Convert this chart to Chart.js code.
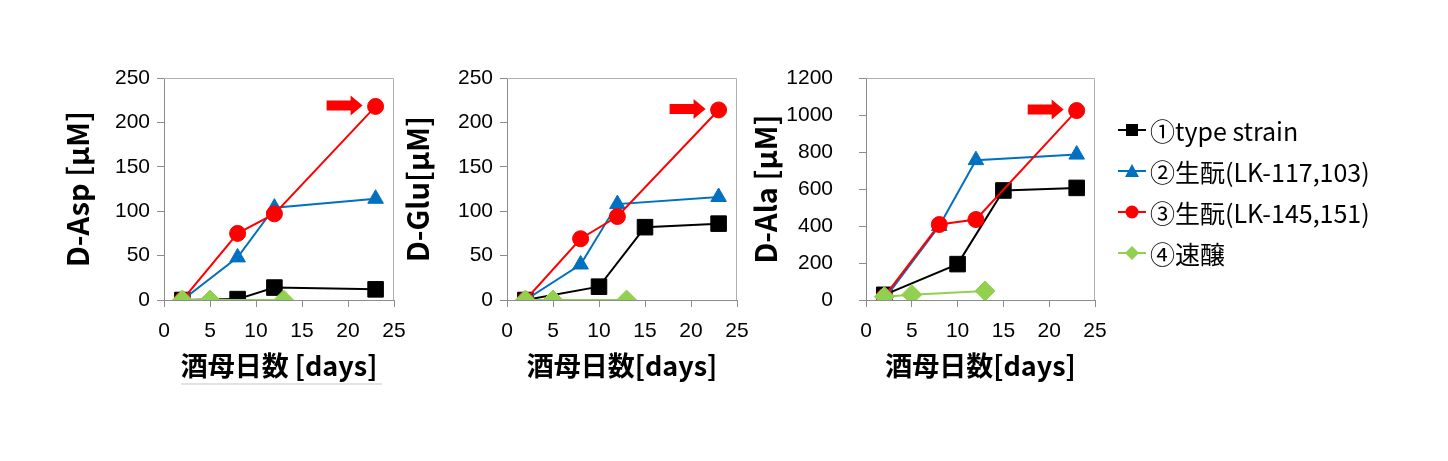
<!DOCTYPE html>
<html>
<head>
<meta charset="utf-8">
<script src="https://cdn.jsdelivr.net/npm/chart.js@4/dist/chart.umd.min.js"></script>
<style>
body{margin:0;background:#fff;width:1448px;height:461px;position:relative;overflow:hidden;}
canvas{position:absolute;}
#legend{position:absolute;left:1116px;top:109px;font-family:'Noto Sans CJK JP',sans-serif;font-size:25px;color:#000;}
.row{height:41px;display:flex;align-items:center;white-space:nowrap;}
#uline{position:absolute;left:181px;top:383px;width:201px;height:2px;background:#e2e2e2;}
</style>
</head>
<body>
<canvas id="c1"></canvas>
<canvas id="c2"></canvas>
<canvas id="c3"></canvas>
<div id="uline"></div>
<div id="legend"></div>
<script>
// series names and colours
var names = ["①type strain", "②生酛(LK-117,103)", "③生酛(LK-145,151)", "④速醸"];
var colors = ["#000000", "#0070C0", "#FF0000", "#92D050"];
var styles = ["rect", "triangle", "circle", "rectRot"];
var radii = [11, 9, 8, 10];

// sampling days [days]
var daysType1 = [2, 8, 12, 23];     // type strain, D-Asp
var daysType2 = [2, 10, 15, 23];    // type strain, D-Glu / D-Ala
var daysKimoto = [2, 8, 12, 23];
var daysSokujo = [2, 5, 13];

// D-Asp [uM]
var aspType = [0, 1, 14, 12];
var aspK1 = [0, 48, 104, 114];
var aspK2 = [0, 75, 97, 218];
var aspSoku = [0, 0, 0];

// D-Glu [uM]
var gluType = [0, 15, 82, 86];
var gluK1 = [0, 40, 108, 116];
var gluK2 = [0, 69, 94, 214];
var gluSoku = [0, 0, 0];

// D-Ala [uM]
var alaType = [28, 194, 592, 606];
var alaK1 = [5, 400, 756, 786];
var alaK2 = [18, 408, 435, 1024];
var alaSoku = [18, 29, 49];

var xTicksMax = 25, xStep = 5;

function pts(xs, ys){
	var out = new Array();
	for(var i = 0; i < xs.length; i++){
		out.push({x: xs[i], y: ys[i]});
	}
	return out;
}

var tickFont = {family: "'Liberation Sans', 'Noto Sans CJK JP', sans-serif", size: 21};
var xTitleFont = {family: "'Noto Sans CJK JP', sans-serif", size: 27, weight: "bold"};
var yTitleFont = {family: "'Noto Sans CJK JP', sans-serif", size: 29, weight: "bold"};
var axisGray = "#8c8c8c";

// box around plot + red arrow pointing at last ③ point
var boxArrow = {
	id: "boxArrow",
	afterDatasetsDraw: function(chart){
		var ctx = chart.ctx;
		var a = chart.chartArea;
		ctx.save();
		ctx.strokeStyle = "#b0b0b0";
		ctx.lineWidth = 1;
		ctx.beginPath();
		ctx.moveTo(a.left, a.top + 0.5);
		ctx.lineTo(a.right - 0.5, a.top + 0.5);
		ctx.lineTo(a.right - 0.5, a.bottom);
		ctx.stroke();
		var meta = chart.getDatasetMeta(2);
		var p = meta.data[meta.data.length - 1];
		var tipX = p.x - 13, y = p.y - 1;
		ctx.fillStyle = "#FF0000";
		ctx.beginPath();
		ctx.moveTo(tipX - 36, y - 5);
		ctx.lineTo(tipX - 12, y - 5);
		ctx.lineTo(tipX - 12, y - 10);
		ctx.lineTo(tipX, y);
		ctx.lineTo(tipX - 12, y + 10);
		ctx.lineTo(tipX - 12, y + 5);
		ctx.lineTo(tipX - 36, y + 5);
		ctx.closePath();
		ctx.fill();
		ctx.restore();
	}
};

// plot area: top 78, bottom 300; canvas from y=30 to y=382
function makeChart(id, left, plotRight, yAxisW, yPad, yTitle, xTitle, yMax, yStep, series){
	var canvas = document.getElementById(id);
	canvas.width = plotRight + 30 - left;
	canvas.height = 352;
	canvas.style.left = left + "px";
	canvas.style.top = "30px";
	var datasets = new Array();
	for(var i = 0; i < series.length; i++){
		datasets.push({
			label: names[i],
			data: series[i],
			borderColor: colors[i],
			backgroundColor: colors[i],
			borderWidth: 2,
			pointStyle: styles[i],
			pointRadius: radii[i],
			pointBorderWidth: 1,
			pointBorderColor: colors[i],
			pointBackgroundColor: colors[i],
			order: 3 - i
		});
	}
	return new Chart(canvas.getContext("2d"), {
		type: "line",
		data: {datasets: datasets},
		plugins: [boxArrow],
		options: {
			responsive: false,
			animation: false,
			layout: {padding: {top: 48, right: 30, left: 0, bottom: 0}},
			plugins: {legend: {display: false}, tooltip: {enabled: false}},
			scales: {
				x: {
					type: "linear", min: 0, max: xTicksMax,
					ticks: {stepSize: xStep, font: tickFont, color: "#000", padding: 12, maxRotation: 0,
						callback: function(v){ return String(v); }},
					grid: {drawOnChartArea: false, tickLength: 7, color: axisGray},
					border: {color: axisGray},
					title: {display: true, text: xTitle, font: xTitleFont, color: "#000", padding: {top: 0, bottom: 0}},
					afterFit: function(s){ s.height = 82; }
				},
				y: {
					min: 0, max: yMax,
					ticks: {stepSize: yStep, font: tickFont, color: "#000", padding: yPad,
						callback: function(v){ return String(v); }},
					grid: {drawOnChartArea: false, tickLength: 7, color: axisGray},
					border: {color: axisGray},
					title: {display: true, text: yTitle, font: yTitleFont, color: "#000", padding: {top: 0, bottom: 0}},
					afterFit: function(s){ s.width = yAxisW; }
				}
			}
		}
	});
}

makeChart("c1", 61, 394, 103, 7, "D-Asp [μM]", "酒母日数 [days]", 250, 50,
	[pts(daysType1, aspType), pts(daysKimoto, aspK1), pts(daysKimoto, aspK2), pts(daysSokujo, aspSoku)]);
makeChart("c2", 401, 737, 106, 7, "D-Glu[μM]", "酒母日数[days]", 250, 50,
	[pts(daysType2, gluType), pts(daysKimoto, gluK1), pts(daysKimoto, gluK2), pts(daysSokujo, gluSoku)]);
makeChart("c3", 749, 1095, 117, 26, "D-Ala [μM]", "酒母日数[days]", 1200, 200,
	[pts(daysType2, alaType), pts(daysKimoto, alaK1), pts(daysKimoto, alaK2), pts(daysSokujo, alaSoku)]);

// legend
function marker(i){
	var c = colors[i];
	var m;
	if(i == 0) m = '<rect x="10" y="6" width="12" height="12" fill="' + c + '"/>';
	else if(i == 1) m = '<polygon points="16,5 23,18 9,18" fill="' + c + '"/>';
	else if(i == 2) m = '<circle cx="16" cy="12" r="6.5" fill="' + c + '"/>';
	else m = '<polygon points="16,5 23,12 16,19 9,12" fill="' + c + '"/>';
	return '<svg width="32" height="24" style="margin-right:2px"><line x1="2" y1="12" x2="30" y2="12" stroke="' + c + '" stroke-width="2"/>' + m + '</svg>';
}
var html = "";
for(var i = 0; i < names.length; i++){
	html += '<div class="row">' + marker(i) + '<span>' + names[i] + '</span></div>';
}
document.getElementById("legend").innerHTML = html;
</script>
</body>
</html>
